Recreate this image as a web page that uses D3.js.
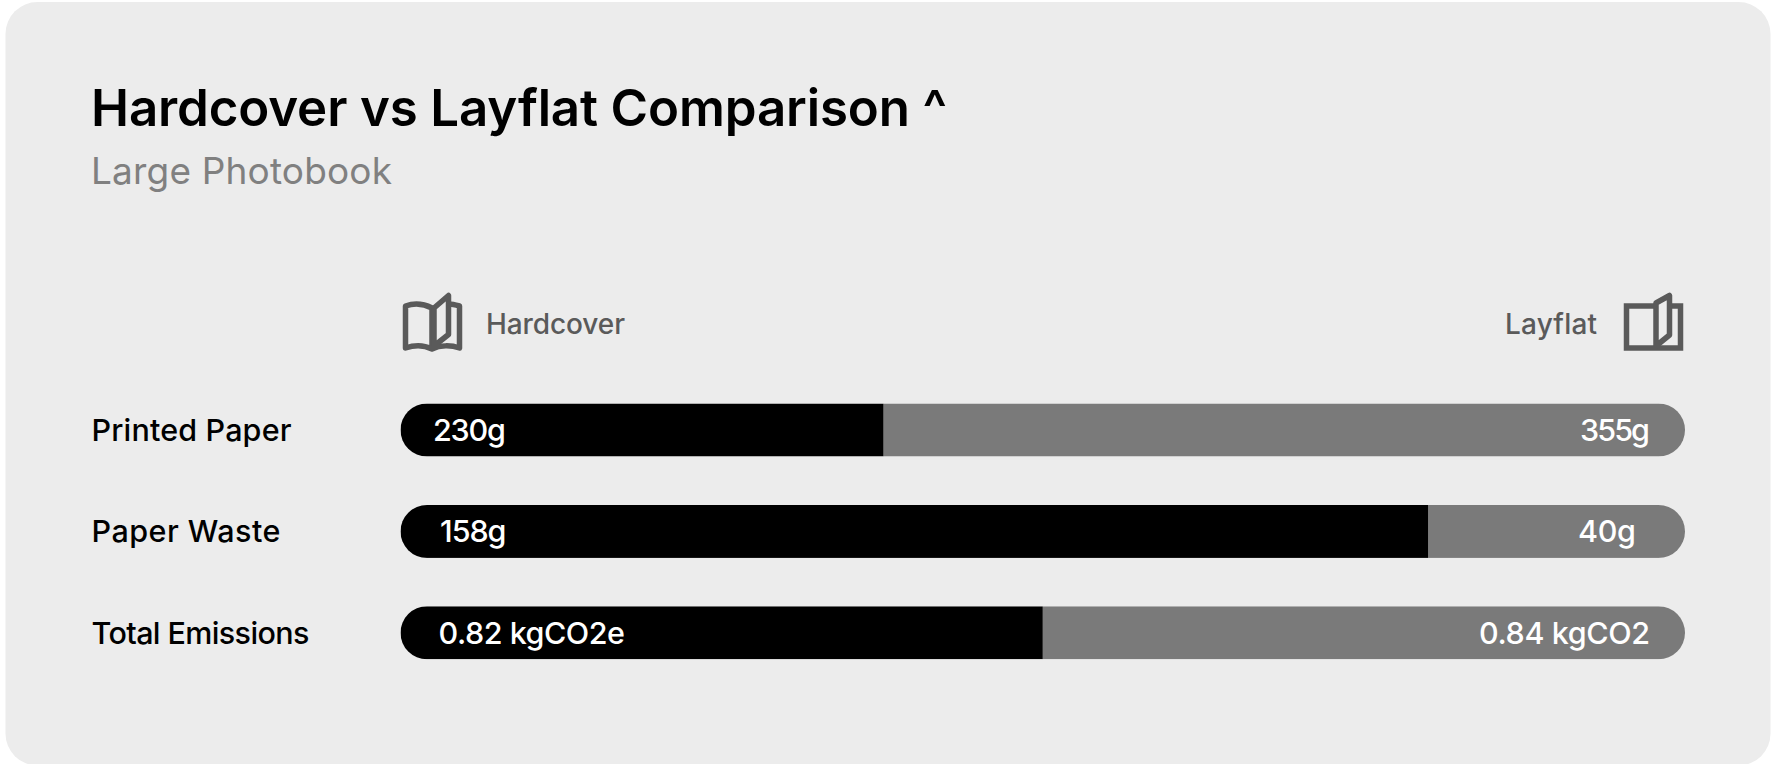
<!DOCTYPE html>
<html>
<head>
<meta charset="utf-8">
<script src="https://cdn.jsdelivr.net/npm/d3@7"></script>
<style>
  html, body { margin: 0; padding: 0; background: #fff; }
  svg { display: block; }
  text { font-family: Inter, sans-serif; }
</style>
</head>
<body>
<svg class="chart"></svg>
<script>
const categories = ["Printed Paper", "Paper Waste", "Total Emissions"];
const hardcoverLabels = ["230g", "158g", "0.82 kgCO2e"];
const layflatLabels = ["355g", "40g", "0.84 kgCO2"];
// share of the bar taken by each side (percent)
const hardcoverShare = [37.6, 80.0, 50.0];
const layflatShare = [62.4, 20.0, 50.0];

const width = 1773, height = 764;
const bar = { left: 400.5, right: 1685, top: 403.5, step: 101.4, height: 53 };

// label layout: insets from the bar ends and measured text widths
const leftInset = [32.5, 39.5, 38];
const rightInset = [35, 49, 35];
const categoryWidth = [200, 189, 218];
const leftWidth = [73, 66.5, 186.5];
const rightWidth = [70, 58, 171];

const svg = d3.select(".chart").attr("width", width).attr("height", height);

// Card background
svg.append("rect")
  .attr("x", 5.5).attr("y", 2)
  .attr("width", 1765).attr("height", 763.5)
  .attr("rx", 32)
  .attr("fill", "#ececec");

// Title block
svg.append("text")
  .attr("x", 91).attr("y", 125.5)
  .attr("font-size", 51).attr("font-weight", 600)
  .attr("textLength", 856).attr("lengthAdjust", "spacing")
  .attr("fill", "#000")
  .text("Hardcover vs Layflat Comparison ^");

svg.append("text")
  .attr("x", 91).attr("y", 184)
  .attr("font-size", 37)
  .attr("textLength", 301).attr("lengthAdjust", "spacing")
  .attr("fill", "#808080")
  .text("Large Photobook");

// Scales
const xScale = d3.scaleLinear().domain([0, 100]).range([bar.left, bar.right]);
const yScale = d3.scaleBand()
  .domain(categories)
  .range([bar.top, bar.top + bar.step * (categories.length - 1) + bar.height])
  .paddingInner(1 - bar.height / bar.step)
  .paddingOuter(0);

// Legend icons
const iconColor = "#5a5a5a";
const hardcoverIcon = svg.append("g")
  .attr("fill", "none").attr("stroke", iconColor)
  .attr("stroke-width", 5.5).attr("stroke-linejoin", "round");
hardcoverIcon.append("path").attr("d", "M432 348V308C424 304 414 303 405.5 306V348C414 345 424 345 432 349C440 345 451 345 459.5 348V306C456 305 452 304 449 304");
hardcoverIcon.append("path").attr("d", "M434 346V308L448.5 295.5V334.5L434 346");

const layflatIcon = svg.append("g")
  .attr("fill", "none").attr("stroke", iconColor)
  .attr("stroke-width", 5.5).attr("stroke-linejoin", "miter");
layflatIcon.append("path").attr("d", "M1654 306H1626.5V348H1680.5V306H1670");
layflatIcon.append("path").attr("d", "M1656 346V303L1669.5 295.5V335L1656 346").attr("stroke-linejoin", "round");

// Legend labels
svg.append("text")
  .attr("x", 486).attr("y", 333.5)
  .attr("font-size", 28).attr("font-weight", 500)
  .attr("textLength", 139).attr("lengthAdjust", "spacing")
  .attr("fill", "#5a5a5a")
  .text("Hardcover");
svg.append("text")
  .attr("x", 1505).attr("y", 333.5)
  .attr("font-size", 28).attr("font-weight", 500)
  .attr("textLength", 92).attr("lengthAdjust", "spacing")
  .attr("fill", "#5a5a5a")
  .text("Layflat");

// Rounded track used to clip both segments
const defs = svg.append("defs");
defs.selectAll("clipPath")
  .data(categories)
  .enter()
  .append("clipPath")
  .attr("id", (d, i) => "track-" + i)
  .append("rect")
  .attr("x", xScale(0))
  .attr("y", d => yScale(d))
  .attr("width", xScale(100) - xScale(0))
  .attr("height", yScale.bandwidth())
  .attr("rx", 26.5);

const rows = svg.selectAll(".row")
  .data(categories)
  .enter()
  .append("g")
  .attr("class", "row");

rows.append("rect")
  .attr("clip-path", (d, i) => `url(#track-${i})`)
  .attr("x", (d, i) => xScale(hardcoverShare[i]))
  .attr("y", d => yScale(d))
  .attr("width", (d, i) => xScale(layflatShare[i]) - xScale(0))
  .attr("height", yScale.bandwidth())
  .attr("fill", "#7a7a7a");

rows.append("rect")
  .attr("clip-path", (d, i) => `url(#track-${i})`)
  .attr("x", xScale(0))
  .attr("y", d => yScale(d))
  .attr("width", (d, i) => xScale(hardcoverShare[i]) - xScale(0))
  .attr("height", yScale.bandwidth())
  .attr("fill", "#000");

// Category labels
rows.append("text")
  .attr("x", 91.5)
  .attr("y", d => yScale(d) + 37.5)
  .attr("font-size", 30.5).attr("font-weight", 500)
  .attr("textLength", (d, i) => categoryWidth[i]).attr("lengthAdjust", "spacing")
  .attr("fill", "#000")
  .text(d => d);

// Value labels
rows.append("text")
  .attr("x", (d, i) => xScale(0) + leftInset[i])
  .attr("y", d => yScale(d) + 37.5)
  .attr("font-size", 30.5).attr("font-weight", 500)
  .attr("textLength", (d, i) => leftWidth[i]).attr("lengthAdjust", "spacing")
  .attr("fill", "#fff")
  .text((d, i) => hardcoverLabels[i]);

rows.append("text")
  .attr("x", (d, i) => xScale(100) - rightInset[i] - rightWidth[i])
  .attr("y", d => yScale(d) + 37.5)
  .attr("font-size", 30.5).attr("font-weight", 500)
  .attr("textLength", (d, i) => rightWidth[i]).attr("lengthAdjust", "spacing")
  .attr("fill", "#fff")
  .text((d, i) => layflatLabels[i]);
</script>
</body>
</html>
